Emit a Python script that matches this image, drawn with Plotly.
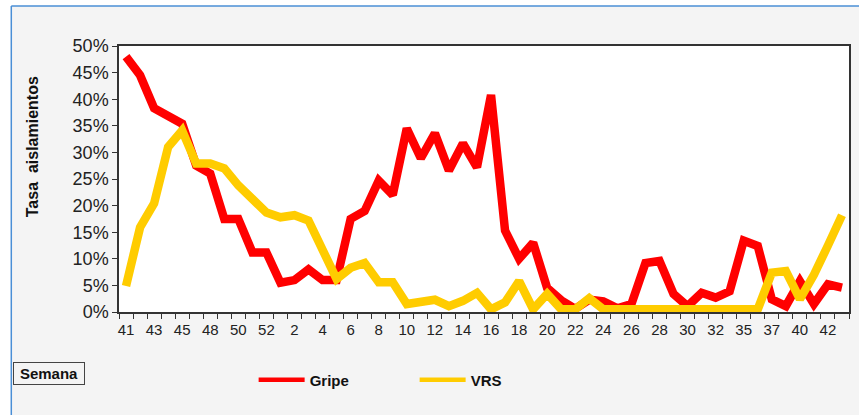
import plotly.graph_objects as go

# Semana epidemiológica (categorías del eje X)
semanas = [41, 42, 43, 44, 45, 46, 48, 49, 50, 51, 52,
           1, 2, 3, 4, 5, 6, 7, 8, 9, 10, 11, 12, 13, 14, 15, 16, 17, 18, 19, 20,
           21, 22, 23, 24, 25, 26, 27, 28, 29, 30, 31, 32, 33,
           35, 36, 37, 38, 40, 41, 42, 43]

# Tasa de aislamientos (%)
gripe = [48, 44.5, 38.3, 37, 35.4, 27.5, 26, 17.5, 17.5, 11.2, 11.2,
         5.5, 6, 8, 6, 6, 17.5, 19, 24.7, 22, 34.5, 28.9, 33.6, 26.6, 31.7, 27.2, 40.8,
         15.3, 10, 13, 4.5, 2.2, 0.6, 2.3, 2, 0.7, 1.5, 9.2, 9.6, 3.4, 1.1, 3.6, 2.7, 3.9,
         13.4, 12.4, 2.4, 1.1, 5.8, 1.5, 5.2, 4.6]

vrs = [4.9, 15.9, 20.4, 31, 34.1, 27.9, 27.9, 27, 23.8, 21, 18.7,
       17.8, 18.2, 17.2, 11.8, 6.2, 8.3, 9.2, 5.6, 5.6, 1.5, 2.1, 2.3, 1.1, 2.1, 3.6, 0.5,
       1.8, 5.8, 0.5, 3.4, 0.5, 0.5, 2.6, 0.5, 0.5, 0.5, 0.5, 0.5, 0.5, 0.5, 0.5, 0.5, 0.5,
       0.5, 0.5, 7.4, 7.7, 2.4, 7, 12.5, 18.2]

y_ticks = [0, 5, 10, 15, 20, 25, 30, 35, 40, 45, 50]
y_labels = [f"{v}%" for v in y_ticks]

idx = list(range(len(semanas)))
label_idx = idx[::2]
label_txt = [str(semanas[i]) for i in label_idx]

W, H = 859, 415
L, R, T, B = 119, 851, 46, 312
pw, ph = R - L, B - T

def px(x):
    return (x - L) / pw

def py(y):
    return (B - y) / ph

fig = go.Figure()
fig.add_trace(go.Scatter(x=idx, y=gripe, mode="lines", name="Gripe", showlegend=False,
                         line=dict(color="#ff0000", width=8.5)))
fig.add_trace(go.Scatter(x=idx, y=vrs, mode="lines", name="VRS", showlegend=False,
                         line=dict(color="#ffcc00", width=8.5)))
# Entradas de leyenda (línea más fina, como en el original)
fig.add_trace(go.Scatter(x=[None], y=[None], mode="lines", name="Gripe",
                         line=dict(color="#ff0000", width=4.5)))
fig.add_trace(go.Scatter(x=[None], y=[None], mode="lines", name="VRS",
                         line=dict(color="#ffcc00", width=4.5)))

font_main = "Arial, Liberation Sans, sans-serif"

fig.update_layout(
    width=W, height=H,
    margin=dict(l=L, r=W - R, t=T, b=H - B, pad=0),
    paper_bgcolor="#f4f4f4",
    plot_bgcolor="#ffffff",
    font=dict(family=font_main, color="#222"),
    showlegend=True,
    legend=dict(orientation="h", x=px(254), y=py(380), xanchor="left", yanchor="middle",
                bgcolor="rgba(0,0,0,0)",
                font=dict(size=15, color="#111", family=font_main, weight="bold"),
                entrywidth=100, entrywidthmode="pixels", itemwidth=46),
    xaxis=dict(range=[-0.5, len(semanas) - 0.5],
               tickmode="array", tickvals=label_idx, ticktext=label_txt,
               ticks="", showgrid=False, zeroline=False, ticklabelstandoff=3,
               showline=True, linecolor="#333", linewidth=1.5, mirror=True,
               tickfont=dict(size=15, color="#222"),
               minor=dict(tickmode="linear", tick0=-0.5, dtick=1, ticks="outside",
                          ticklen=5, tickcolor="#333", tickwidth=1, showgrid=False)),
    yaxis=dict(range=[0, 50], tickmode="array", tickvals=y_ticks, ticktext=y_labels,
               ticks="outside", ticklen=5, tickcolor="#333",
               showgrid=False, zeroline=False,
               showline=True, linecolor="#333", linewidth=1.5, mirror=True,
               tickfont=dict(size=18, color="#222")),
)

# Título del eje Y
fig.add_annotation(text="<b>Tasa  aislamientos</b>", textangle=-90,
                   xref="paper", yref="paper", x=px(32), y=py(147),
                   xanchor="center", yanchor="middle", showarrow=False,
                   font=dict(size=16, color="#111", family=font_main))

# Título del eje X en caja
fig.add_annotation(text="<b>Semana</b>", xref="paper", yref="paper",
                   x=px(49), y=py(373.5), xanchor="center", yanchor="middle",
                   showarrow=False, width=70, height=21, borderpad=0,
                   bordercolor="#444", borderwidth=1, bgcolor="#f4f4f4",
                   font=dict(size=15, color="#111", family=font_main))

# Marco exterior (blanco fuera, línea azul arriba e izquierda)
fig.add_shape(type="rect", xref="paper", yref="paper",
              x0=px(-5), x1=px(W + 5), y0=py(6), y1=py(-5),
              fillcolor="#ffffff", line=dict(width=0), layer="above")
fig.add_shape(type="rect", xref="paper", yref="paper",
              x0=px(-5), x1=px(11), y0=py(H + 5), y1=py(-5),
              fillcolor="#ffffff", line=dict(width=0), layer="above")
fig.add_shape(type="line", xref="paper", yref="paper",
              x0=px(11), x1=px(W + 5), y0=py(6), y1=py(6),
              line=dict(color="#4a8fd6", width=1.5), layer="above")
fig.add_shape(type="line", xref="paper", yref="paper",
              x0=px(11), x1=px(11), y0=py(6), y1=py(H + 5),
              line=dict(color="#4a8fd6", width=1.5), layer="above")

fig.write_html("out.html", config={"displayModeBar": False},
               post_script="document.body.style.margin='0';")
